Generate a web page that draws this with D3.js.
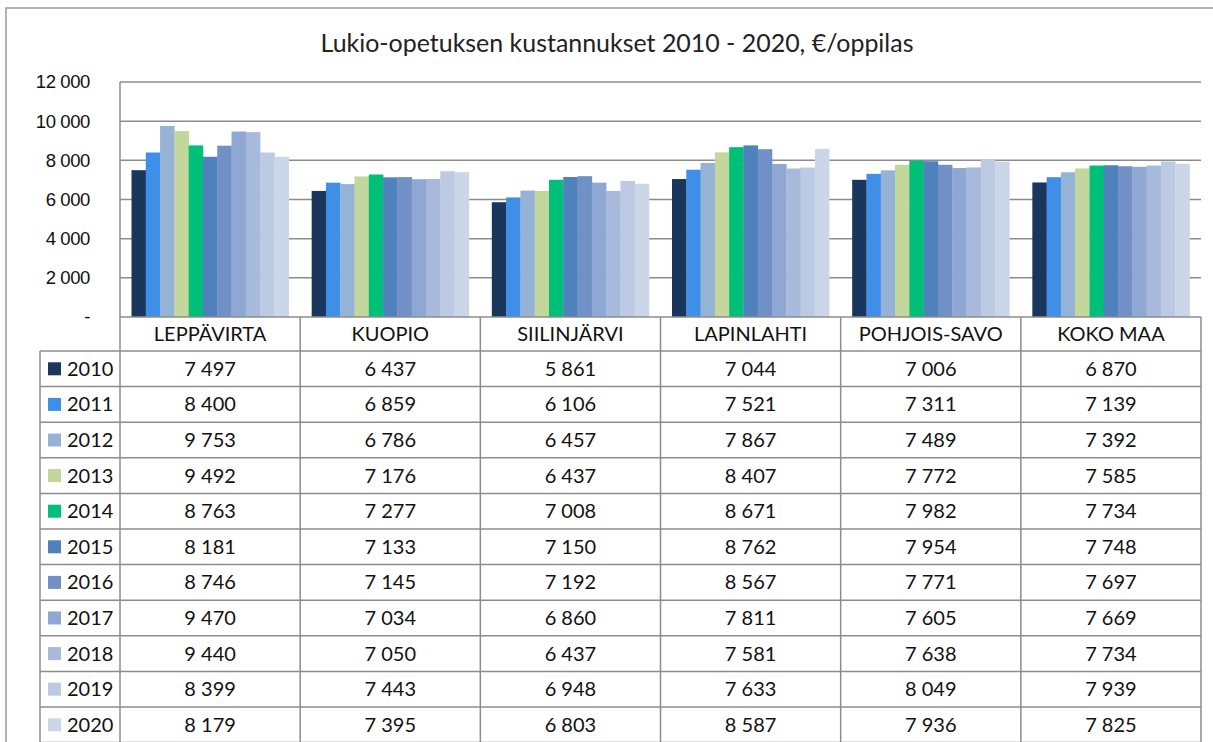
<!DOCTYPE html>
<html><head><meta charset="utf-8">
<script src="https://cdn.jsdelivr.net/npm/d3@7"></script>
<style>
body{margin:0;background:#fff;}
svg{display:block;}
</style></head>
<body><svg id="chart" width="1213" height="742"></svg>
<script>
const title = "Lukio-opetuksen kustannukset 2010 - 2020, €/oppilas";
const categories = ["LEPPÄVIRTA","KUOPIO","SIILINJÄRVI","LAPINLAHTI","POHJOIS-SAVO","KOKO MAA"];
const years = ["2010","2011","2012","2013","2014","2015","2016","2017","2018","2019","2020"];
const v2010 = [7497,6437,5861,7044,7006,6870];
const v2011 = [8400,6859,6106,7521,7311,7139];
const v2012 = [9753,6786,6457,7867,7489,7392];
const v2013 = [9492,7176,6437,8407,7772,7585];
const v2014 = [8763,7277,7008,8671,7982,7734];
const v2015 = [8181,7133,7150,8762,7954,7748];
const v2016 = [8746,7145,7192,8567,7771,7697];
const v2017 = [9470,7034,6860,7811,7605,7669];
const v2018 = [9440,7050,6437,7581,7638,7734];
const v2019 = [8399,7443,6948,7633,8049,7939];
const v2020 = [8179,7395,6803,8587,7936,7825];
const seriesValues = [v2010,v2011,v2012,v2013,v2014,v2015,v2016,v2017,v2018,v2019,v2020];
const colors = ["#1b365d","#3f8fe9","#95b3d7","#c3d69b","#00bf78","#4f81bd","#7191c6","#8ea7d3","#a7badb","#bccae3","#ccd6e9"];
const yTicks = [0,2000,4000,6000,8000,10000,12000];

const svg = d3.select("#chart");
const plotL = 120, plotR = 1201, plotT = 82, plotB = 317;
const headerB = 351, rowH = 35.6, legendL = 40;
const tableFont = "Lato, 'Open Sans', sans-serif";
const gridColor = "#8c8c8c";

// outer frame
svg.append("rect").attr("x",6).attr("y",8).attr("width",1220).attr("height",760)
  .attr("fill","none").attr("stroke","#9a9a9a").attr("stroke-width",1.5);

// title
const t = svg.append("text").attr("x",617).attr("y",52).attr("text-anchor","middle")
  .attr("font-family",tableFont).attr("font-size",22).attr("fill","#222").text(title);
const tw = t.node().getComputedTextLength();
t.attr("font-size", 22*593/tw);

const x0 = d3.scaleBand().domain(categories).range([plotL,plotR]).paddingInner(0).paddingOuter(0);
const x1 = d3.scaleBand().domain(years).range([11.5, x0.bandwidth()-11.5]).padding(0);
const y = d3.scaleLinear().domain([0,12000]).range([plotB,plotT]);

// gridlines
svg.append("g").selectAll("line").data(yTicks.filter(d=>d>0)).join("line")
  .attr("x1",plotL).attr("x2",plotR).attr("y1",d=>y(d)).attr("y2",d=>y(d))
  .attr("stroke",gridColor).attr("stroke-width",1.5);

// y axis labels
const fmt = d => d===0 ? "-" : d3.format(",")(d).replace(/,/g," ");
const yAxis = d3.axisLeft(y).tickValues(yTicks).tickFormat(fmt).tickSize(0).tickPadding(30);
const ya = svg.append("g").attr("transform",`translate(${plotL},0)`).call(yAxis);
ya.select(".domain").remove();
ya.selectAll("text").attr("font-family","'Liberation Sans Narrow','Liberation Sans',Arial,sans-serif")
  .attr("font-size",18.5).attr("fill","#111").attr("letter-spacing","-0.4");

// bars
const groups = svg.append("g").selectAll("g").data(categories).join("g")
  .attr("transform",d=>`translate(${x0(d)},0)`);
groups.selectAll("rect").data((c,ci)=>years.map((yr,si)=>({yr,si,v:seriesValues[si][ci]})))
  .join("rect")
  .attr("x",d=>x1(d.yr)).attr("width",x1.bandwidth()+0.3)
  .attr("y",d=>y(d.v)).attr("height",d=>y(0)-y(d.v))
  .attr("fill",d=>colors[d.si]);

// y axis line
svg.append("line").attr("x1",plotL).attr("x2",plotL).attr("y1",plotT).attr("y2",742)
  .attr("stroke",gridColor).attr("stroke-width",1.5);

// data table
const tbl = svg.append("g");
const lineAttr = s => s.attr("stroke",gridColor).attr("stroke-width",1.5);
const rowLines = [plotB, headerB].concat(years.map((_,i)=>headerB+rowH*(i+1)));
rowLines.forEach((ry,i)=>{
  tbl.append("line").attr("x1", i===0 ? plotL : legendL).attr("x2",plotR)
    .attr("y1",ry).attr("y2",ry).call(lineAttr);
});
categories.forEach(c=>{
  tbl.append("line").attr("x1",x0(c)+x0.bandwidth()).attr("x2",x0(c)+x0.bandwidth())
    .attr("y1",plotB).attr("y2",742).call(lineAttr);
});
tbl.append("line").attr("x1",legendL).attr("x2",legendL).attr("y1",headerB).attr("y2",742).call(lineAttr);

tbl.selectAll("text.hdr").data(categories).join("text").attr("class","hdr")
  .attr("x",d=>x0(d)+x0.bandwidth()/2).attr("y",(plotB+headerB)/2+7)
  .attr("text-anchor","middle").attr("font-family",tableFont).attr("font-size",20)
  .attr("fill","#111").text(d=>d);

const fmtN = d => d3.format(",")(d).replace(/,/g," ");
years.forEach((yr,si)=>{
  const cy = headerB + rowH*si + rowH/2;
  tbl.append("rect").attr("x",48).attr("y",cy-6.5).attr("width",13).attr("height",13).attr("fill",colors[si]);
  tbl.append("text").attr("x",67).attr("y",cy+7).attr("font-family",tableFont).attr("font-size",20)
    .attr("fill","#111").text(yr);
  categories.forEach((c,ci)=>{
    tbl.append("text").attr("x",x0(c)+x0.bandwidth()/2).attr("y",cy+7).attr("text-anchor","middle")
      .attr("font-family",tableFont).attr("font-size",20).attr("fill","#111")
      .text(fmtN(seriesValues[si][ci]));
  });
});
</script></body></html>
